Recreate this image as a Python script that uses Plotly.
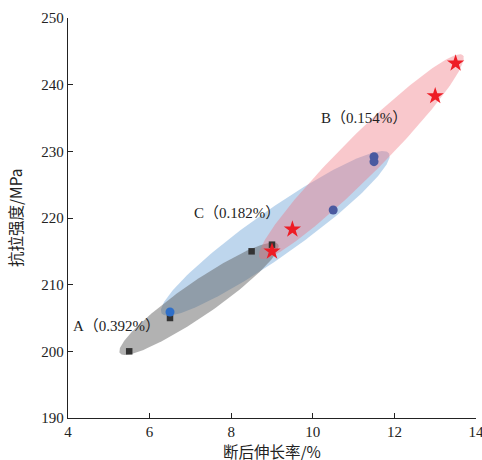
import numpy as np
import plotly.graph_objects as go

# ---- data ----
a_x = [5.5, 6.5, 8.5, 9.0]
a_y = [200.0, 205.0, 215.0, 216.0]
c_x = [6.5, 10.5, 11.5, 11.5]
c_y = [205.9, 221.2, 228.45, 229.2]
b_x = [9.0, 9.5, 13.0, 13.5]
b_y = [215.0, 218.3, 238.3, 243.2]

labels = ["A（0.392%）", "C（0.182%）", "B（0.154%）"]
label_x = [5.18, 8.14, 11.25]
label_y = [203.8, 220.75, 235.0]

x_ticks = [4, 6, 8, 10, 12, 14]
y_ticks = [190, 200, 210, 220, 230, 240, 250]
x_title = "断后伸长率/%"
y_title = "抗拉强度/MPa"

# circle colours: points lying inside the pink band look darker in the original
c_colors = ["#2f6fc8", "#4a5aa0", "#4a5aa0", "#4a5aa0"]

# ellipse groups: center (data), semi-axes (px), angle (deg)
ell_a = dict(cx=7.21, cy=207.9, a=96, b=17, ang=34.6, color="rgba(95,95,95,0.48)")
ell_c = dict(cx=9.08, cy=217.7, a=139, b=23, ang=35.2, color="rgba(110,165,215,0.45)")
ell_b = dict(cx=11.19, cy=229.2, a=143.5, b=20, ang=45.0, color="rgba(238,110,120,0.38)")

W, H = 482, 460
ML, MR, MT, MB = 68, 6, 18, 42
XR = [4, 14]
YR = [190, 250]
PW = W - ML - MR
PH = H - MT - MB
px_x = PW / (XR[1] - XR[0])
px_y = PH / (YR[1] - YR[0])


def ellipse(e):
    t = np.linspace(0, 2 * np.pi, 200)
    th = np.deg2rad(e["ang"])
    u = e["a"] * np.cos(t)
    v = e["b"] * np.sin(t)
    dx = u * np.cos(th) - v * np.sin(th)
    dy = u * np.sin(th) + v * np.cos(th)
    return e["cx"] + dx / px_x, e["cy"] + dy / px_y


fig = go.Figure()

for e in (ell_c, ell_a, ell_b):
    ex, ey = ellipse(e)
    fig.add_trace(go.Scatter(x=ex, y=ey, mode="lines", fill="toself",
                             fillcolor=e["color"], line=dict(width=0),
                             hoverinfo="skip", showlegend=False))

fig.add_trace(go.Scatter(x=a_x, y=a_y, mode="markers",
                         marker=dict(symbol="square", size=6.5, color="#333333"),
                         hoverinfo="skip", showlegend=False))
fig.add_trace(go.Scatter(x=c_x, y=c_y, mode="markers",
                         marker=dict(symbol="circle", size=9, color=c_colors),
                         hoverinfo="skip", showlegend=False))
fig.add_trace(go.Scatter(x=b_x, y=b_y, mode="markers",
                         marker=dict(symbol="star", size=13, color="#ee1c25",
                                     line=dict(width=0)),
                         hoverinfo="skip", showlegend=False))

lab_font = dict(family="Liberation Serif, Noto Sans CJK SC", size=15, color="#222")
for t, x, y in zip(labels, label_x, label_y):
    fig.add_annotation(x=x, y=y, text=t, showarrow=False, font=lab_font)

title_font = dict(family="Noto Sans CJK SC", size=15.5, color="#222")
fig.add_annotation(xref="paper", yref="paper", x=0.5, y=-33 / PH, yanchor="middle",
                   text=x_title, showarrow=False, font=title_font)
fig.add_annotation(xref="paper", yref="paper", x=-53 / PW, y=0.5, xanchor="center",
                   text=y_title, textangle=-90, showarrow=False, font=title_font)

axis_font = dict(family="Liberation Serif, Noto Sans CJK SC", size=15, color="#222")
fig.update_layout(
    width=W, height=H,
    margin=dict(l=ML, r=MR, t=MT, b=MB, autoexpand=False),
    paper_bgcolor="white", plot_bgcolor="white",
    font=axis_font,
    xaxis=dict(range=XR, tickvals=x_ticks, ticks="inside", ticklen=5, tickwidth=1,
               tickcolor="#222", showline=True, linecolor="#222", linewidth=1.3,
               showgrid=False, zeroline=False, tickfont=axis_font, automargin=False,
               ticklabeloverflow="allow"),
    yaxis=dict(range=YR, tickvals=y_ticks, ticks="inside", ticklen=5, tickwidth=1,
               tickcolor="#222", showline=True, linecolor="#222", linewidth=1.3,
               showgrid=False, zeroline=False, tickfont=axis_font, automargin=False,
               ticklabeloverflow="allow"),
)

fig.write_html("out.html", config={"displayModeBar": False},
               post_script="document.body.style.margin='0';document.body.style.overflow='hidden';")
